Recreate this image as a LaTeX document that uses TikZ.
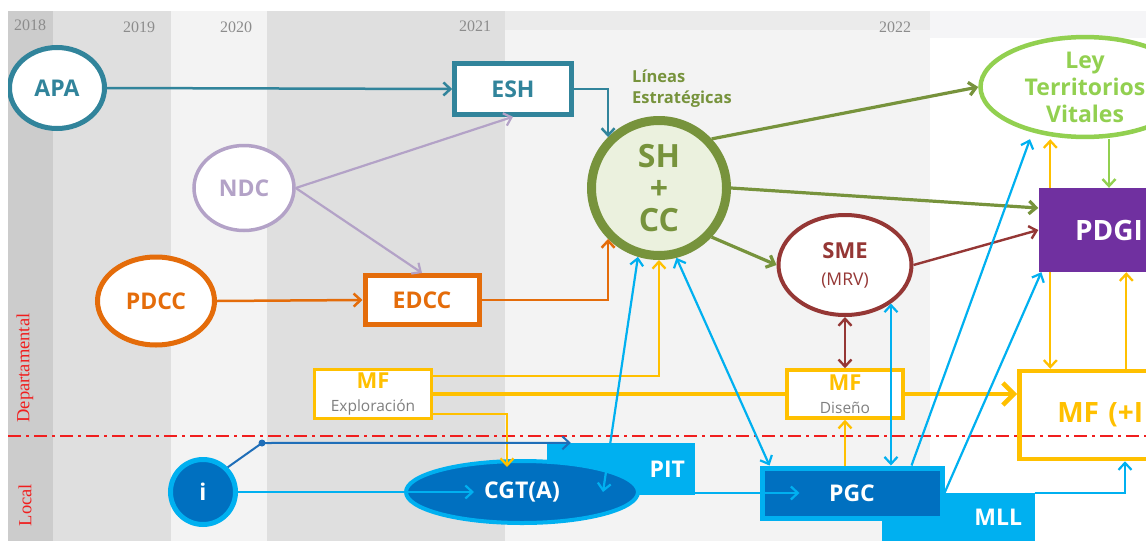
\documentclass[tikz,border=0pt]{standalone}
\usepackage{fontspec}
\setmainfont{Open Sans}
\newfontfamily\yearfont{Liberation Serif}
\usetikzlibrary{arrows.meta, calc, shapes.geometric}

\definecolor{cteal}{HTML}{31849B}
\definecolor{cpurple}{HTML}{B3A2C7}
\definecolor{corange}{HTML}{E46C0A}
\definecolor{colive}{HTML}{77933C}
\definecolor{cshfill}{HTML}{EBF1DE}
\definecolor{clime}{HTML}{92D050}
\definecolor{cred}{HTML}{953735}
\definecolor{cviolet}{HTML}{7030A0}
\definecolor{cyellow}{HTML}{FFC000}
\definecolor{cgray}{HTML}{7F7F7F}
\definecolor{csky}{HTML}{00B0F0}
\definecolor{cblue}{HTML}{0070C0}
\definecolor{cnavy}{HTML}{1F6EB8}
\definecolor{bgdark}{HTML}{CCCCCC}
\definecolor{bgmid}{HTML}{DFDFDF}
\definecolor{bglight}{HTML}{F3F3F3}
\definecolor{bgtop}{HTML}{F5F5F7}
\definecolor{cyear}{HTML}{8C8C8C}
\definecolor{clevel}{HTML}{F01E1E}

\newcommand{\mfsub}[1]{{\mdseries\fontsize{15.5}{18}\selectfont\color{cgray}#1}}

\tikzstyle{round_stage}=[ellipse, fill=white, align=center, inner sep=0pt,
   font=\bfseries\fontsize{23}{27}\selectfont]
\tikzstyle{box_stage}=[rectangle, fill=white, align=center, inner sep=0pt,
   font=\bfseries\fontsize{23}{27}\selectfont]
\tikzstyle{local_stage}=[fill=cblue, draw=csky, text=white, inner sep=0pt,
   font=\bfseries\fontsize{23}{27}\selectfont]
\tikzstyle{local_band}=[rectangle, fill=csky, text=white, inner sep=0pt,
   align=right, text width=128pt, font=\bfseries\fontsize{23}{27}\selectfont]
\tikzstyle{year}=[text=cyear, font=\yearfont\fontsize{16}{18}\selectfont]
\tikzstyle{level}=[text=clevel, rotate=90, font=\yearfont\fontsize{18.5}{20}\selectfont]
\tikzstyle{teal_link}=[->, draw=cteal, line width=2.5pt]
\tikzstyle{ndc_link}=[->, draw=cpurple, line width=2.2pt]
\tikzstyle{pdcc_link}=[->, draw=corange, line width=2.5pt]
\tikzstyle{shcc_link}=[->, draw=colive, line width=3.2pt]
\tikzstyle{sme_link}=[->, draw=cred, line width=2.4pt]
\tikzstyle{ley_link}=[->, draw=clime, line width=2.4pt]
\tikzstyle{mf_link}=[->, draw=cyellow, line width=2.3pt]
\tikzstyle{mf_main}=[draw=cyellow, line width=4.5pt]
\tikzstyle{local_link}=[->, draw=csky, line width=2.2pt]
\tikzstyle{i_link}=[->, draw=cnavy, line width=2pt]

\begin{document}
\begin{tikzpicture}[x=1pt, y=-1pt, >={Straight Barb[length=7pt,width=13pt]}]

\useasboundingbox (0,0) rectangle (1146,541);
\clip (8,11) rectangle (1146,541);

% year columns
\fill[bgmid!40!bglight] (8,11) rectangle (1146,38);
\fill[bgdark]  (8,11)   rectangle (53,541);
\fill[bgmid]   (53,11)  rectangle (171,541);
\fill[bglight] (171,11) rectangle (267,541);
\fill[bgmid]   (267,11) rectangle (505,541);
\fill[bglight] (505,30) rectangle (930,541);
\fill[bgtop]   (930,11) rectangle (1146,38);
\fill[white]   (930,38) rectangle (1146,541);

\node [year] (y2018) at (30,25)  {2018};
\node [year] (y2019) at (139,27) {2019};
\node [year] (y2020) at (236,27) {2020};
\node [year] (y2021) at (475,26) {2021};
\node [year] (y2022) at (895,27) {2022};

\node [level] (dept)  at (25,368) {Departamental};
\node [level] (local) at (25,505) {Local};

% national level
\node [round_stage, draw=cteal, text=cteal, line width=5pt,
       minimum width=95pt, minimum height=81pt] (apa) at (57,88) {APA};
\node [box_stage, draw=cteal, text=cteal, line width=4.5pt,
       minimum width=117pt, minimum height=51pt] (esh) at (513,89) {ESH};
\node [round_stage, draw=cpurple, text=cpurple, line width=3.5pt,
       minimum width=100pt, minimum height=85pt] (ndc) at (244,188) {NDC};
\node [round_stage, draw=corange, text=corange, line width=5pt,
       minimum width=117pt, minimum height=88pt] (pdcc) at (156,301) {PDCC};
\node [box_stage, draw=corange, text=corange, line width=5pt,
       minimum width=114pt, minimum height=49pt] (edcc) at (422,300) {EDCC};

% strategic lines
\node [circle, draw=colive, fill=cshfill, text=colive, line width=9pt,
       minimum size=135pt, inner sep=0pt, align=center,
       font=\bfseries\fontsize{32}{32}\selectfont] (shcc) at (659,188) {SH\\+\\CC};
\node [anchor=west, align=left, text=colive, inner sep=0pt,
       font=\bfseries\fontsize{16.5}{21}\selectfont] (lineas) at (632,89) {Líneas\\Estratégicas};
\node [round_stage, draw=cred, text=cred, line width=4pt,
       minimum width=133pt, minimum height=100pt,
       font=\bfseries\fontsize{22}{27}\selectfont] (sme) at (845,265)
       {SME\\{\mdseries\fontsize{17.5}{20}\selectfont (MRV)}};
\node [round_stage, draw=clime, text=clime, line width=4.5pt,
       minimum width=209pt, minimum height=97pt,
       font=\bfseries\fontsize{23}{27}\selectfont] (ley) at (1085,87)
       {Ley\\Territorios\\Vitales};
\node [rectangle, fill=cviolet, text=white, inner sep=0pt,
       minimum width=141pt, minimum height=84pt,
       font=\bfseries\fontsize{28}{30}\selectfont] (pdgi) at (1109,230) {PDGI};

% MF boxes
\node [box_stage, draw=cyellow, text=cyellow, line width=3.5pt,
       minimum width=117pt, minimum height=49pt,
       font=\bfseries\fontsize{22}{23}\selectfont] (mfexp) at (373,394)
       {MF\\\mfsub{Exploración}};
\node [box_stage, draw=cyellow, text=cyellow, line width=3.5pt,
       minimum width=116pt, minimum height=48pt,
       font=\bfseries\fontsize{22}{23}\selectfont] (mfdis) at (845,394)
       {MF\\\mfsub{Diseño}};
\node [rectangle, draw=cyellow, text=cyellow, line width=4.5pt, anchor=west,
       minimum width=180pt, minimum height=88pt, inner sep=0pt,
       text width=104pt, align=left,
       font=\bfseries\fontsize{28}{30}\selectfont] (mfplus) at (1017,415) {MF (+I};

% local level
\node [local_band, minimum width=148pt, minimum height=52pt] (pit) at (621,469) {PIT};
\node [local_band, minimum width=153pt, minimum height=48pt] (mll) at (958,517) {MLL};
\node [local_stage, circle, line width=5pt, minimum size=65pt] (i) at (203,492) {i};
\node [local_stage, ellipse, line width=4pt,
       minimum width=232pt, minimum height=62pt] (cgt) at (522,492) {CGT(A)};
\node [local_stage, rectangle, line width=5pt,
       minimum width=180pt, minimum height=50pt] (pgc) at (852,493) {PGC};

% level divider
\draw[clevel, line width=2.5pt, dash pattern=on 13pt off 5pt on 3pt off 5pt]
    (8,436) -- (1146,436);

% national links
\draw[teal_link] (apa.east) -- (esh.west);
\draw[teal_link] (esh.east) -| (shcc.north west);
\draw[ndc_link] (ndc.east) -- (esh.south);
\draw[ndc_link] (ndc.east) -- (edcc.north);
\draw[pdcc_link] (pdcc.east) -- (edcc.west);
\draw[pdcc_link] (edcc.east) -| (shcc.south west);

% strategic links
\draw[shcc_link] (shcc.43) -- (ley.west);
\draw[shcc_link] (shcc.east) -- ($(pdgi.west)+(0,-22)$);
\draw[shcc_link] (shcc.-43) -- (sme.west);
\draw[sme_link] (sme.east) -- (pdgi.west);
\draw[sme_link, <->] (sme.south) -- (mfdis.north);
\draw[ley_link] (pdgi.north |- ley.south) -- (pdgi.north);

% MF links
\coordinate (pdgi_top_l) at ($(pdgi.north west)+(12,0)$);
\coordinate (pdgi_bot_l) at ($(pdgi.south west)+(12,0)$);
\coordinate (pdgi_bot_r) at ($(pdgi.south west)+(88,0)$);
\coordinate (mfexp_hi)   at ($(mfexp.east)+(0,-18)$);
\coordinate (mfexp_lo)   at ($(mfexp.east)+(0,20)$);
\draw[mf_link] (pdgi_top_l) -- (pdgi_top_l |- ley.south);
\draw[mf_link] (pdgi_bot_l) -- (pdgi_bot_l |- mfplus.north);
\draw[mf_link] (pdgi_bot_r |- mfplus.north) -- (pdgi_bot_r);
\draw[mf_link] (mfexp_hi) -| (shcc.south);
\draw[mf_link] (mfexp_lo) -| ($(cgt.north)+(-15,8)$);
\draw[mf_main] (mfexp.east) -- (mfdis.west);
\draw[mf_main, -{Straight Barb[length=11pt,width=22pt]}] (mfdis.east) -- (mfdis.east -| mfplus.west);
\draw[mf_link] (mfdis.south |- pgc.north) -- (mfdis.south);

% local links
\coordinate (i_split) at (262,443);
\coordinate (mll_up)  at ($(mfplus.south west)+(108,0)$);
\draw[i_link] (i.45) -- (i_split) -- ($(pit.north west)+(24,0)$);
\fill[cnavy] (i_split) circle (3.5pt);
\draw[local_link] (i.east) -- ($(cgt.west)+(70,0)$);
\draw[local_link] (pgc.west -| pit.east) -- ($(pgc.west)+(40,0)$);
\draw[local_link, <->] ($(cgt.center)+(81,0)$) -- (shcc.253);
\draw[local_link, <->] (shcc.284) -- ($(pgc.north west)+(10,0)$);
\draw[local_link, <->] (sme.-40) -- (sme.-40 |- pgc.north);
\draw[local_link] ($(pgc.north east)+(-33,0)$) -- ($(ley.south)+(-55,0)$);
\draw[local_link] (pgc.east) -- ($(pdgi.south west)+(3,0)$);
\draw[local_link] (mll.north east) -| (mll_up);

\end{tikzpicture}
\end{document}
